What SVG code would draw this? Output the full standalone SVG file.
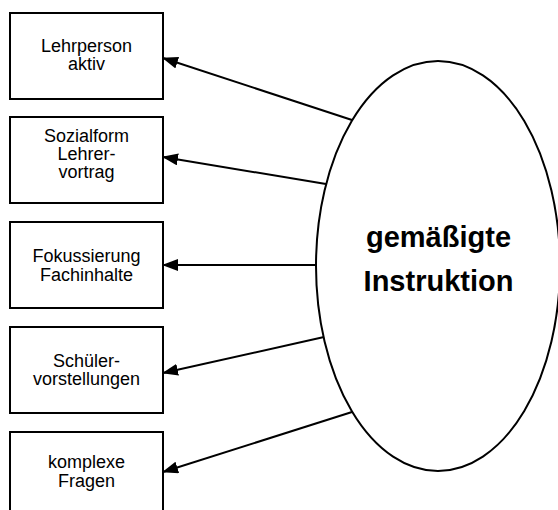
<svg xmlns="http://www.w3.org/2000/svg" width="558" height="510" viewBox="0 0 558 510">
<style>
.box{fill:#fff;stroke:#000;stroke-width:2}
.t{font-family:"Liberation Sans",Arial,sans-serif;font-size:18px;text-anchor:middle;fill:#000}
.b{font-family:"Liberation Sans",Arial,sans-serif;font-size:29px;font-weight:bold;text-anchor:middle;fill:#000}
.c{stroke:#000;stroke-width:2;fill:none;marker-end:url(#ah)}
</style>
<defs>
<marker id="ah" viewBox="0 0 16 12" refX="15" refY="6" markerWidth="16" markerHeight="12" markerUnits="userSpaceOnUse" orient="auto">
<path d="M0,0 L16,6 L0,12 z" fill="#000"/>
</marker>
</defs>
<rect width="558" height="510" fill="#fff"/>
<g id="n1"><rect class="box" x="10" y="13" width="153" height="86"/>
<text class="t" x="86.5" y="51.7">Lehrperson</text><text class="t" x="86.5" y="70">aktiv</text></g>
<g id="n2"><rect class="box" x="10" y="117" width="153" height="86"/>
<text class="t" x="86.5" y="141.7">Sozialform</text><text class="t" x="86.5" y="160">Lehrer-</text><text class="t" x="86.5" y="178.3">vortrag</text></g>
<g id="n3"><rect class="box" x="10" y="222" width="153" height="86"/>
<text class="t" x="86.5" y="261.7">Fokussierung</text><text class="t" x="86.5" y="280.5">Fachinhalte</text></g>
<g id="n4"><rect class="box" x="10" y="327" width="153" height="86"/>
<text class="t" x="86.5" y="366.7">Schüler-</text><text class="t" x="86.5" y="385">vorstellungen</text></g>
<g id="n5"><rect class="box" x="10" y="432" width="153" height="86"/>
<text class="t" x="86.5" y="468.3">komplexe</text><text class="t" x="86.5" y="486.7">Fragen</text></g>
<g id="center"><ellipse cx="438" cy="266" rx="122" ry="205" fill="#fff" stroke="#000" stroke-width="2"/>
<text class="b" x="438.5" y="247">gemäßigte</text><text class="b" x="438.5" y="291">Instruktion</text></g>
<g id="connectors">
<line class="c" x1="352" y1="120" x2="163" y2="58"/>
<line class="c" x1="326" y1="184" x2="163" y2="157"/>
<line class="c" x1="316" y1="265" x2="163" y2="265"/>
<line class="c" x1="324" y1="337" x2="163" y2="373"/>
<line class="c" x1="352" y1="412" x2="163" y2="472"/>
</g>
</svg>
